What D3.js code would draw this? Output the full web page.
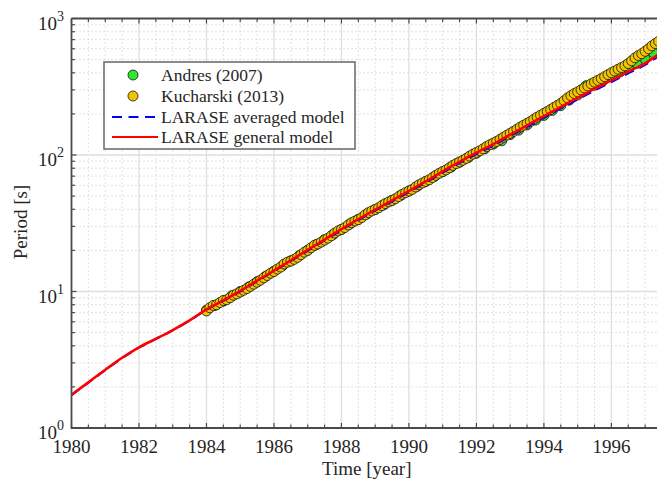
<!DOCTYPE html>
<html><head><meta charset="utf-8">
<script src="https://cdn.jsdelivr.net/npm/d3@7"></script>
<style>body{margin:0;background:#fff;overflow:hidden}</style></head>
<body><svg id="c" width="657" height="482"></svg>
<script>
// ---- data ----
const modelYears = [1980,1980.5,1981,1981.5,1982,1982.5,1983,1983.5,1984,1984.5,1985,1985.5,1986,1986.5,1987,1987.5,1988,1988.5,1989,1989.5,1990,1990.5,1991,1991.5,1992,1992.5,1993,1993.5,1994,1994.5,1995,1995.5,1996,1996.5,1997,1997.5];
const generalModel = [1.75,2.16,2.67,3.27,3.9,4.5,5.22,6.15,7.4,8.6,10.1,12.0,14.2,16.9,20.2,24.0,28.6,33.8,39.8,46.5,54.5,64,76,89,104,120,141,165,193,225,262,305,352,408,470,570];
const averagedModel = [1.74,2.15,2.66,3.25,3.88,4.48,5.19,6.12,7.36,8.55,10.0,11.9,14.1,16.7,19.9,23.7,28.2,33.3,39.2,45.7,53.5,62.8,74.5,87.2,101.8,117.4,137.8,161,188.5,219.5,255.5,297,343,397,457,554];

const kucharskiYears = [1984.0,1984.1,1984.2,1984.3,1984.4,1984.5,1984.6,1984.7,1984.8,1984.9,1985.0,1985.1,1985.2,1985.3,1985.4,1985.5,1985.6,1985.7,1985.8,1985.9,1986.0,1986.1,1986.2,1986.3,1986.4,1986.5,1986.6,1986.7,1986.8,1986.9,1987.0,1987.1,1987.2,1987.3,1987.4,1987.5,1987.6,1987.7,1987.8,1987.9,1988.0,1988.1,1988.2,1988.3,1988.4,1988.5,1988.6,1988.7,1988.8,1988.9,1989.0,1989.1,1989.2,1989.3,1989.4,1989.5,1989.6,1989.7,1989.8,1989.9,1990.0,1990.1,1990.2,1990.3,1990.4,1990.5,1990.6,1990.7,1990.8,1990.9,1991.0,1991.1,1991.2,1991.3,1991.4,1991.5,1991.6,1991.7,1991.8,1991.9,1992.0,1992.1,1992.2,1992.3,1992.4,1992.5,1992.6,1992.7,1992.8,1992.9,1993.0,1993.1,1993.2,1993.3,1993.4,1993.5,1993.6,1993.7,1993.8,1993.9,1994.0,1994.1,1994.2,1994.3,1994.4,1994.5,1994.6,1994.7,1994.8,1994.9,1995.0,1995.1,1995.2,1995.3,1995.4,1995.5,1995.6,1995.7,1995.8,1995.9,1996.0,1996.1,1996.2,1996.3,1996.4,1996.5,1996.6,1996.7,1996.8,1996.9,1997.0,1997.1,1997.2,1997.3,1997.4];
const kucharskiPeriod = [7.2,7.6,7.9,8.0,8.3,8.6,8.7,9.0,9.4,9.6,9.9,10.2,10.5,10.9,11.3,11.7,12.1,12.6,13.1,13.6,14.0,14.6,15.1,15.9,16.4,16.7,17.2,17.8,18.6,19.4,20.0,20.9,21.8,22.3,23.0,23.8,24.6,25.6,26.8,27.8,28.5,29.4,30.7,31.9,32.8,33.6,34.8,36.4,37.8,38.9,39.9,41.0,42.6,44.1,45.3,46.4,47.8,49.6,51.5,53.0,54.4,56.0,58.3,60.5,62.3,64.1,65.8,68.3,71.0,73.4,75.6,77.8,80.6,83.8,86.5,88.9,91.4,94.5,98.2,101.5,104.5,107.3,111.0,115.2,119.0,122.4,125.8,130.2,135.0,139.6,144.2,149.0,154.5,160.2,165.3,170.4,176.0,182.8,189.5,195.6,201.8,208.3,215.5,223.4,231.0,238.6,250,262,272,282,290,300,310,320,332,342,352,363,375,388,400,412,425,437,450,468,490,515,535,552,575,600,630,655,680];

const andresYears = [1984.0,1984.25,1984.5,1984.75,1985,1985.25,1985.5,1985.75,1986,1986.25,1986.5,1986.75,1987,1987.25,1987.5,1987.75,1988,1988.25,1988.5,1988.75,1989,1989.25,1989.5,1989.75,1990,1990.25,1990.5,1990.75,1991,1991.25,1991.5,1991.75,1992,1992.25,1992.5,1992.75,1993,1993.25,1993.5,1993.75,1994,1994.25,1994.5,1994.75,1995,1995.25,1995.5,1995.75,1996,1996.25,1996.5,1996.75,1997,1997.25];
const andresPeriod = [7.3,7.9,8.5,9.3,10.0,10.8,11.8,12.9,14.1,15.4,16.8,18.3,20.1,22.0,24.0,26.1,28.5,31.2,33.8,36.9,39.9,43.1,46.6,50.5,54.5,59,64,69.5,75.4,81.5,88.5,95.5,103,111,120,127,141,152,166,180,195,212,230,252,275,322,325,350,378,405,440,470,505,560];

const xTickLabels = ["1980","1982","1984","1986","1988","1990","1992","1994","1996"];
const yTickExponents = ["0","1","2","3"];
const legendLabels = ["Andres (2007)","Kucharski (2013)","LARASE averaged model","LARASE general model"];

// ---- layout ----
const svg = d3.select("#c");
const L = 71.5, R = 662, T = 18.5, B = 428;
const x = d3.scaleLinear().domain([1980, 1997.5]).range([L, R]);
const y = d3.scaleLog().domain([1, 1000]).range([B, T]);
const font = "'Liberation Serif','Times New Roman',serif";
const axisCol = "#4a4a4a";

const defs = svg.append("defs");
defs.append("clipPath").attr("id","clip").append("rect")
  .attr("x", L).attr("y", T).attr("width", R - L).attr("height", B - T);

// grid
const g = svg.append("g");
const minorX = d3.range(0, 36).map(i => 1980 + i * 0.5).filter(v => v % 2 !== 0 && v < 1997.5);
const majorX = xTickLabels.map(Number);
const minorY = [];
[1, 10, 100].forEach(d => { for (let k = 2; k <= 9; k++) minorY.push(k * d); });
const majorY = yTickExponents.map(e => Math.pow(10, +e));

g.selectAll(".mx").data(minorX).join("line")
  .attr("x1", d => x(d)).attr("x2", d => x(d)).attr("y1", T).attr("y2", B)
  .attr("stroke", "#c4c4c4").attr("stroke-width", 1).attr("stroke-dasharray", "1,3");
g.selectAll(".my").data(minorY).join("line")
  .attr("x1", L).attr("x2", R).attr("y1", d => y(d)).attr("y2", d => y(d))
  .attr("stroke", "#c4c4c4").attr("stroke-width", 1).attr("stroke-dasharray", "1,3");
g.selectAll(".Mx").data(majorX.slice(1)).join("line")
  .attr("x1", d => x(d)).attr("x2", d => x(d)).attr("y1", T).attr("y2", B)
  .attr("stroke", "#dedede").attr("stroke-width", 1.3);
g.selectAll(".My").data(majorY.slice(1, 3)).join("line")
  .attr("x1", L).attr("x2", R).attr("y1", d => y(d)).attr("y2", d => y(d))
  .attr("stroke", "#dedede").attr("stroke-width", 1.3);

// data
const plot = svg.append("g").attr("clip-path", "url(#clip)");
const andres = andresYears.map((d, i) => [d, andresPeriod[i]]);
const kuch = kucharskiYears.map((d, i) => [d, kucharskiPeriod[i]]);
plot.selectAll(".a").data(andres).join("circle")
  .attr("cx", d => x(d[0])).attr("cy", d => y(d[1])).attr("r", 5)
  .attr("fill", "#2ee82e").attr("stroke", "#111").attr("stroke-width", 0.8);
plot.selectAll(".k").data(kuch).join("circle")
  .attr("cx", d => x(d[0])).attr("cy", d => y(d[1])).attr("r", 5)
  .attr("fill", "#f0c400").attr("stroke", "#111").attr("stroke-width", 0.8);

const line = d3.line().x(d => x(d[0])).y(d => y(d[1])).curve(d3.curveMonotoneX);
plot.append("path").datum(modelYears.map((d, i) => [d, averagedModel[i]]))
  .attr("d", line).attr("fill", "none").attr("stroke", "#0000ff").attr("stroke-width", 2.2)
  .attr("stroke-dasharray", "10,6");
plot.append("path").datum(modelYears.map((d, i) => [d, generalModel[i]]))
  .attr("d", line).attr("fill", "none").attr("stroke", "#ff0000").attr("stroke-width", 2.6);

// axes frame
const ax = svg.append("g");
ax.append("path").attr("d", `M${L},${T}H${R+5}M${L},${T}V${B}H${R+5}`)
  .attr("fill", "none").attr("stroke", axisCol).attr("stroke-width", 1.8);

// ticks
const allX = majorX.concat(minorX);
ax.selectAll(".tb").data(allX).join("line")
  .attr("x1", d => x(d)).attr("x2", d => x(d))
  .attr("y1", B).attr("y2", d => B - (majorX.includes(d) ? 5 : 3.5))
  .attr("stroke", axisCol).attr("stroke-width", 1.2);
ax.selectAll(".tt").data(allX).join("line")
  .attr("x1", d => x(d)).attr("x2", d => x(d))
  .attr("y1", T).attr("y2", d => T + (majorX.includes(d) ? 5 : 3.5))
  .attr("stroke", axisCol).attr("stroke-width", 1.2);
ax.selectAll(".tl").data(majorY.concat(minorY)).join("line")
  .attr("x1", L).attr("x2", d => L + (majorY.includes(d) ? 5 : 3.5))
  .attr("y1", d => y(d)).attr("y2", d => y(d))
  .attr("stroke", axisCol).attr("stroke-width", 1.2);

// tick labels
ax.selectAll(".xl").data(xTickLabels).join("text")
  .attr("x", d => x(+d)).attr("y", 453).attr("text-anchor", "middle")
  .attr("font-family", font).attr("font-size", 19).attr("fill", "#262626").text(d => d);
const yl = ax.selectAll(".yl").data(yTickExponents).join("text")
  .attr("x", 64).attr("y", d => y(Math.pow(10, +d)) + 11).attr("text-anchor", "end")
  .attr("font-family", font).attr("font-size", 19).attr("fill", "#262626");
yl.append("tspan").text("10");
yl.append("tspan").attr("font-size", 14).attr("dy", -9).text(d => d);

// axis titles
svg.append("text").attr("x", (L + R) / 2).attr("y", 475).attr("text-anchor", "middle")
  .attr("font-family", font).attr("font-size", 19).attr("fill", "#262626").text("Time [year]");
svg.append("text").attr("transform", "translate(27,222) rotate(-90)").attr("text-anchor", "middle")
  .attr("font-family", font).attr("font-size", 19).attr("fill", "#262626").text("Period [s]");

// legend
const lg = svg.append("g");
lg.append("rect").attr("x", 104).attr("y", 62).attr("width", 251).attr("height", 87)
  .attr("fill", "#fff").attr("stroke", "#666").attr("stroke-width", 1.5);
const rowY = [75, 96, 117, 137];
lg.append("circle").attr("cx", 133).attr("cy", rowY[0]).attr("r", 5)
  .attr("fill", "#2ee82e").attr("stroke", "#111").attr("stroke-width", 0.8);
lg.append("circle").attr("cx", 133).attr("cy", rowY[1]).attr("r", 5)
  .attr("fill", "#f0c400").attr("stroke", "#111").attr("stroke-width", 0.8);
lg.append("line").attr("x1", 112).attr("x2", 158).attr("y1", rowY[2]).attr("y2", rowY[2])
  .attr("stroke", "#0000ff").attr("stroke-width", 2.2).attr("stroke-dasharray", "10,6.5");
lg.append("line").attr("x1", 112).attr("x2", 158).attr("y1", rowY[3]).attr("y2", rowY[3])
  .attr("stroke", "#ff0000").attr("stroke-width", 2.2);
lg.selectAll(".lt").data(legendLabels).join("text")
  .attr("x", 161).attr("y", (d, i) => rowY[i] + 6)
  .attr("font-family", font).attr("font-size", 17.5).attr("fill", "#262626").text(d => d);
</script></body></html>
